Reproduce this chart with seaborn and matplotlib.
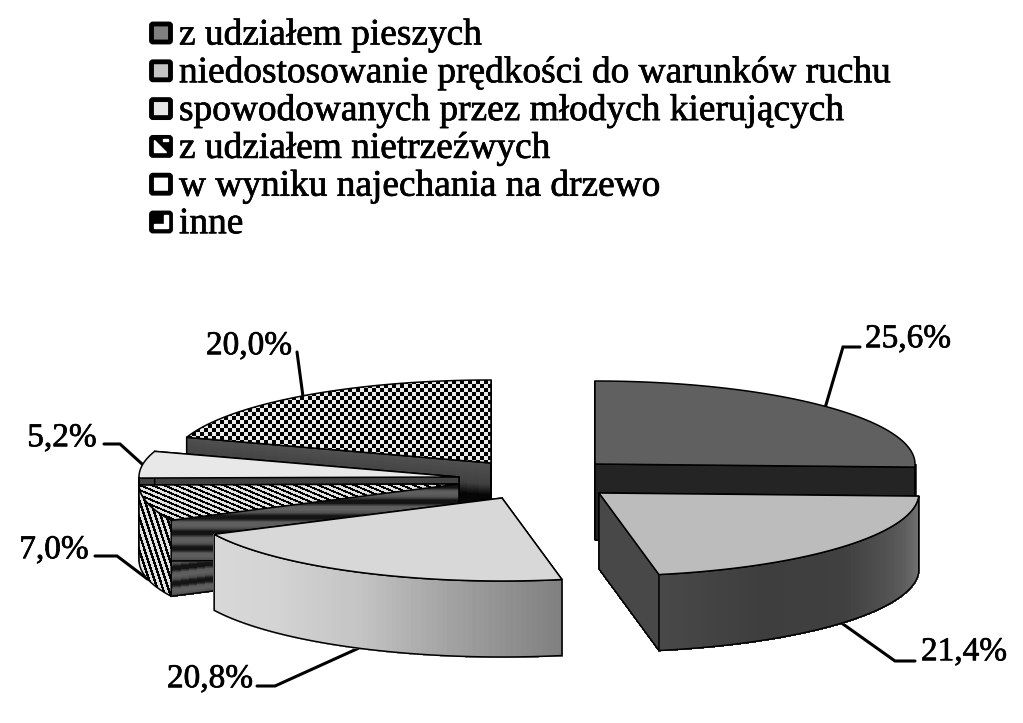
import numpy as np
import seaborn as sns
import matplotlib
matplotlib.use('Agg')
import matplotlib.pyplot as plt
import matplotlib.patheffects as pe
from matplotlib.patches import Polygon, FancyBboxPatch

categories = ['z udziałem pieszych',
              'niedostosowanie prędkości do warunków ruchu',
              'spowodowanych przez młodych kierujących',
              'z udziałem nietrzeźwych',
              'w wyniku najechania na drzewo',
              'inne']
# slices run clockwise from 12 o'clock
slice_values = [25.6, 21.4, 20.8, 7.0, 5.2, 20.0]

W, H = 1023, 723
RX, RY, DEPTH = 320, 83, 76
# exploded apex of every slice
apex = [(595, 464), (599, 493), (502, 498), (459, 484), (459, 477), (491, 463)]
# text anchor and elbow of the leader lines
label_pos = [(908, 339), (964, 652), (210, 679), (54, 550), (62, 438), (249, 346)]
elbows = [[(843, 347), (860, 347)], [(895, 661), (915, 661)], [(275, 686), (257, 686)],
          [(117, 556), (95, 556)], [(120, 444), (104, 444)], [(297, 352)]]

top_colors = ['#606060', '#bcbcbc', '#d8d8d8', None, '#e8e8e8', None]
wall_colors = [['#484848', '#484848'], ['#787878', '#585858', '#404040', '#3e3e3e', '#484848'],
               ['#808080', '#a0a0a0', '#c4c4c4', '#d4d4d4', '#d8d8d8'], None,
               ['#444444', '#444444'], ['#444444', '#444444']]
band = ['#141414', '#141414', '#5c5c5c', '#606060', '#505050'] * 5
face_colors = [['#242424', '#242424'], ['#484848', '#484848'], ['#808080', '#808080'], band,
               ['#424242', '#424242'],
               ['#505050', '#484848', '#404040', '#060606', '#060606', '#404040', '#505050', '#505050']]

sns.set_theme(style='white')
plt.rcParams['font.family'] = ['Liberation Serif', 'DejaVu Serif']

fig = plt.figure(figsize=(W / 100, H / 100), dpi=100)
ax = fig.add_axes([0, 0, 1, 1])
ax.set_xlim(0, W)
ax.set_ylim(H, 0)
ax.axis('off')

heavy = [pe.withStroke(linewidth=0.5, foreground='black')]


def rim(a, angles):
    t = np.radians(angles)
    return np.column_stack([a[0] + RX * np.sin(t), a[1] - RY * np.cos(t)])


def patterned(xy, func, z):
    # black and white pixel pattern clipped to a polygon
    yy, xx = np.mgrid[0:H, 0:W]
    img = ax.imshow(func(xx, yy), cmap='gray', vmin=0, vmax=1, extent=(0, W, H, 0),
                    interpolation='bilinear', aspect='auto', zorder=z)
    poly = Polygon(xy, closed=True, fc='none', ec='black', lw=1.1, zorder=z)
    ax.add_patch(poly)
    img.set_clip_path(poly)


def checker(xx, yy):
    return ((xx // 4 + yy // 4) % 2) * 0.92


def top_hatch(xx, yy):
    return (((yy - 0.42 * xx) % 5) > 2.2) * 0.88


def wall_hatch(xx, yy):
    return (((xx - 0.33 * yy) % 5.5) > 2.6) * 0.88


def face(a, b, colors, z):
    # radial cut, shaded by depth
    shades = sns.blend_palette(colors, DEPTH)
    for i, c in enumerate(shades):
        quad = [a + np.array([0, i]), b + np.array([0, i]),
                b + np.array([0, i + 1.5]), a + np.array([0, i + 1.5])]
        ax.add_patch(Polygon(quad, closed=True, fc=c, ec='none', antialiased=False, zorder=z))
    ax.add_patch(Polygon([a, b, b + [0, DEPTH], a + [0, DEPTH]], closed=True,
                         fc='none', ec='black', lw=1.1, zorder=z))


edges = np.concatenate([[0], np.cumsum(slice_values)]) * 3.6
draw_order = [5, 4, 3, 0, 1, 2]

for n, idx in enumerate(draw_order):
    z = 2 + n * 3
    a = np.array(apex[idx], dtype=float)
    start, end = edges[idx], edges[idx + 1]
    angles = np.linspace(start, end, 90)
    arc = rim(a, angles)
    top = np.vstack([a, arc])

    # cuts first, anything facing away ends up under the top and the wall
    face(a, rim(a, [start])[0], face_colors[idx], z)
    face(a, rim(a, [end])[0], face_colors[idx], z)

    lo, hi = max(start, 90), min(end, 270)
    if hi > lo:
        w_angles = np.linspace(lo, hi, 80)
        w = rim(a, w_angles)
        outline = np.vstack([w, (w + [0, DEPTH])[::-1]])
        if wall_colors[idx] is None:
            patterned(outline, wall_hatch, z + 1)
        else:
            shades = sns.blend_palette(wall_colors[idx], len(w) - 1)
            for i, c in enumerate(shades):
                quad = [w[i], w[i + 1], w[i + 1] + [0, DEPTH], w[i] + [0, DEPTH]]
                ax.add_patch(Polygon(quad, closed=True, fc=c, ec=c, lw=0.8,
                                     antialiased=False, zorder=z + 1))
            ax.add_patch(Polygon(outline, closed=True, fc='none', ec='black', lw=1.1, zorder=z + 1))

    if idx == 3:
        patterned(top, top_hatch, z + 2)
    elif idx == 5:
        patterned(top, checker, z + 2)
    else:
        ax.add_patch(Polygon(top, closed=True, fc=top_colors[idx], ec='black', lw=1.1, zorder=z + 2))

# percent labels with leader lines from the middle of each slice
for idx, v in enumerate(slice_values):
    mid = (edges[idx] + edges[idx + 1]) / 2
    p = rim(apex[idx], [mid])[0]
    if 90 < mid < 270:
        p = p + [0, DEPTH]
    pts = np.vstack([p, elbows[idx]])
    ax.plot(pts[:, 0], pts[:, 1], color='black', lw=2.2, zorder=1, solid_joinstyle='miter')
    ax.text(label_pos[idx][0], label_pos[idx][1], f'{v:.1f}%'.replace('.', ','),
            fontsize=24, color='black', ha='center', va='center', zorder=30, path_effects=heavy)

# legend
legend_fill = ['#808080', '#c4c4c4', '#e6e6e6', '#000000', '#ffffff', '#000000']
for i, name in enumerate(categories):
    y = 33 + i * 37.8
    ax.add_patch(FancyBboxPatch((151.5, y - 9), 19, 18, boxstyle='round,pad=0,rounding_size=1.5',
                                fc=legend_fill[i], ec='black', lw=3.5, zorder=5))
    if i == 3:
        ax.fill([154, 154, 166], [y - 6, y + 6, y + 6], color='white', zorder=6)
        ax.fill([163, 168, 168, 163], [y - 7, y - 7, y - 5, y - 5], color='white', zorder=6)
    if i == 5:
        ax.fill([164, 168, 168, 154, 154, 164], [y - 7, y - 7, y + 6, y + 6, y + 2, y + 2],
                color='white', zorder=6)
    ax.text(179, y + 2, name, fontsize=26.9, color='black', ha='left', va='center',
            zorder=6, path_effects=heavy)

fig.savefig('out.png', dpi=100)
